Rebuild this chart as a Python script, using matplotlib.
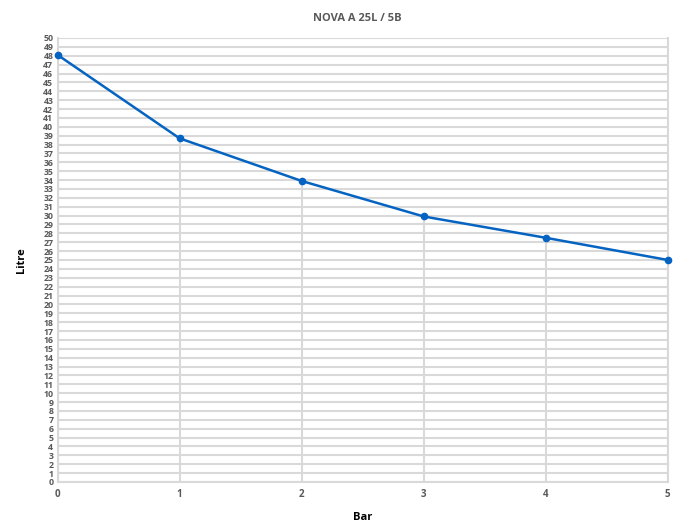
import matplotlib
matplotlib.use("Agg")
import matplotlib.pyplot as plt
import numpy as np

bar = [0, 1, 2, 3, 4, 5]
litre = [48.1, 38.7, 33.9, 29.9, 27.5, 25.0]
y_ticks = list(range(0, 51))

GRID = "#d9d9d9"
TEXT = "#595959"
BLUE = "#0563c1"

plt.rcParams["font.family"] = ["Open Sans", "DejaVu Sans"]

fig = plt.figure(figsize=(6.88, 5.24), dpi=100)
ax = fig.add_axes([0.0836, 0.0802, 0.887, 0.8473])

ax.set_xlim(0, 5)
ax.set_ylim(0, 50)

# horizontal gridlines
for y in y_ticks:
    ax.axhline(y, color=GRID, lw=1.5, zorder=1)

# drop lines from each point to the x axis
ax.vlines(bar, 0, litre, color=GRID, lw=1.5, zorder=1)

ax.plot(bar, litre, color=BLUE, lw=1.8, marker="o", ms=4.5, zorder=3, clip_on=False)

ax.spines["top"].set_visible(False)
for side in ["left", "right", "bottom"]:
    ax.spines[side].set_color(GRID)
    ax.spines[side].set_linewidth(1.5)

ax.set_xticks(bar)
ax.set_yticks(y_ticks)
ax.tick_params(axis="both", length=0, colors=TEXT)
ax.tick_params(axis="x", pad=5, labelsize=7)
ax.tick_params(axis="y", pad=3, labelsize=6.3)
for lbl in ax.get_xticklabels() + ax.get_yticklabels():
    lbl.set_fontweight("bold")

ax.set_xlabel("Bar", fontsize=8, fontweight="bold", color="black", labelpad=9)
ax.set_ylabel("Litre", fontsize=8, fontweight="bold", color="black", labelpad=12)
fig.suptitle("NOVA A 25L / 5B", x=0.52, y=0.975, fontsize=8, fontweight="bold", color=TEXT)

fig.savefig("out.png", dpi=100)
